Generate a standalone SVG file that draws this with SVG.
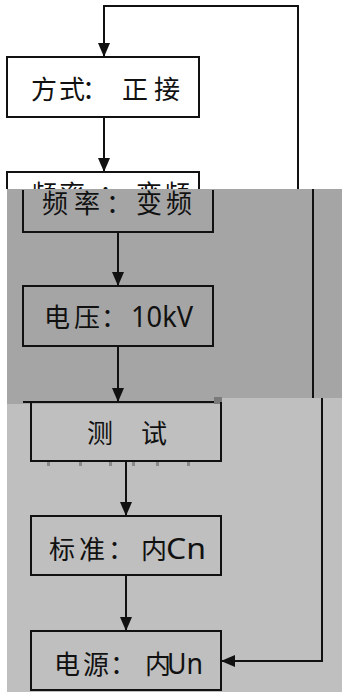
<svg xmlns="http://www.w3.org/2000/svg" width="342" height="693" viewBox="0 0 342 693">
<style>
.box{fill:none;stroke:#111;stroke-width:2}
.ln{fill:none;stroke:#111;stroke-width:2}
.t{font-family:"Noto Sans CJK SC","Noto Sans",sans-serif;font-size:26px;fill:#111}
.l{font-family:"Noto Sans","Noto Sans CJK SC",sans-serif;font-size:29px;fill:#111}
</style>
<defs>
<marker id="ah" viewBox="0 0 14 12" refX="14" refY="6" markerWidth="14" markerHeight="12" markerUnits="userSpaceOnUse" orient="auto">
<path d="M0,0 L14,6 L0,12 Z" fill="#111"/>
</marker>
<clipPath id="cw"><rect x="0" y="0" width="342" height="189"/></clipPath>
<clipPath id="cg"><rect x="0" y="190" width="342" height="210"/></clipPath>
</defs>
<rect x="0" y="0" width="342" height="693" fill="#fff"/>
<rect id="bg-light" x="7" y="398" width="335" height="294" fill="#bfbfbf"/>
<polygon id="bg-dark" points="7,189 342,189 342,398 222,398 222,404 7,404" fill="#a5a5a5"/>
<rect x="214" y="397" width="8" height="7" fill="#7a7a7a"/>

<g id="connectors">
<path class="ln" d="M298,189 V6 H104 V57" marker-end="url(#ah)"/>
<line class="ln" x1="104" y1="117" x2="104" y2="172" marker-end="url(#ah)"/>
<line class="ln" x1="313" y1="189" x2="313" y2="398"/>
<line class="ln" x1="118" y1="232" x2="118" y2="286" marker-end="url(#ah)"/>
<line class="ln" x1="118" y1="346" x2="118" y2="402" marker-end="url(#ah)"/>
<line class="ln" x1="126" y1="461" x2="126" y2="516" marker-end="url(#ah)"/>
<line class="ln" x1="126" y1="575" x2="126" y2="631" marker-end="url(#ah)"/>
<path class="ln" d="M322,398 V661 H221" marker-end="url(#ah)"/>
</g>

<g id="n1">
<rect class="box" x="7" y="57" width="192" height="60" fill="#fff"/>
<text class="t" x="31 59 82 122 154" y="99">方式：正接</text>
</g>

<g id="n2-top" clip-path="url(#cw)">
<rect class="box" x="7" y="172" width="192" height="60"/>
<text class="t" x="31 59 99 136 164" y="204">频率：变频</text>
</g>

<g id="n2" clip-path="url(#cg)">
<rect class="box" x="23" y="172" width="190" height="60"/>
<text class="t" x="42 74 106 136 166" y="213">频率：变频</text>
</g>

<g id="n3">
<rect class="box" x="23" y="286" width="190" height="60"/>
<text class="t" x="44 74 101" y="327">电压：</text>
<text class="l" x="131" y="327" textLength="62" lengthAdjust="spacingAndGlyphs">10kV</text>
</g>

<g id="n4">
<line class="ln" x1="23" y1="402" x2="214" y2="402"/>
<polyline class="ln" points="31,402 31,461 221,461 221,402"/>
<text class="t" x="87 114 141" y="443" xml:space="preserve">测 试</text>
<g fill="#8a8a8a">
<rect x="47" y="462" width="3" height="4"/>
<rect x="79" y="462" width="3" height="4"/>
<rect x="109" y="462" width="3" height="4"/>
<rect x="132" y="462" width="3" height="4"/>
<rect x="156" y="462" width="3" height="4"/>
<rect x="187" y="462" width="3" height="4"/>
</g>
</g>

<g id="n5">
<rect class="box" x="31" y="516" width="190" height="59"/>
<text class="t" x="49 79 108 141" y="559">标准：内</text>
<text class="l" x="166" y="559" textLength="40" lengthAdjust="spacingAndGlyphs">Cn</text>
</g>

<g id="n6">
<rect class="box" x="31" y="631" width="190" height="59"/>
<text class="t" x="54 83 110 145" y="674">电源：内</text>
<text class="l" x="167" y="674" textLength="36" lengthAdjust="spacingAndGlyphs">Un</text>
</g>
</svg>
